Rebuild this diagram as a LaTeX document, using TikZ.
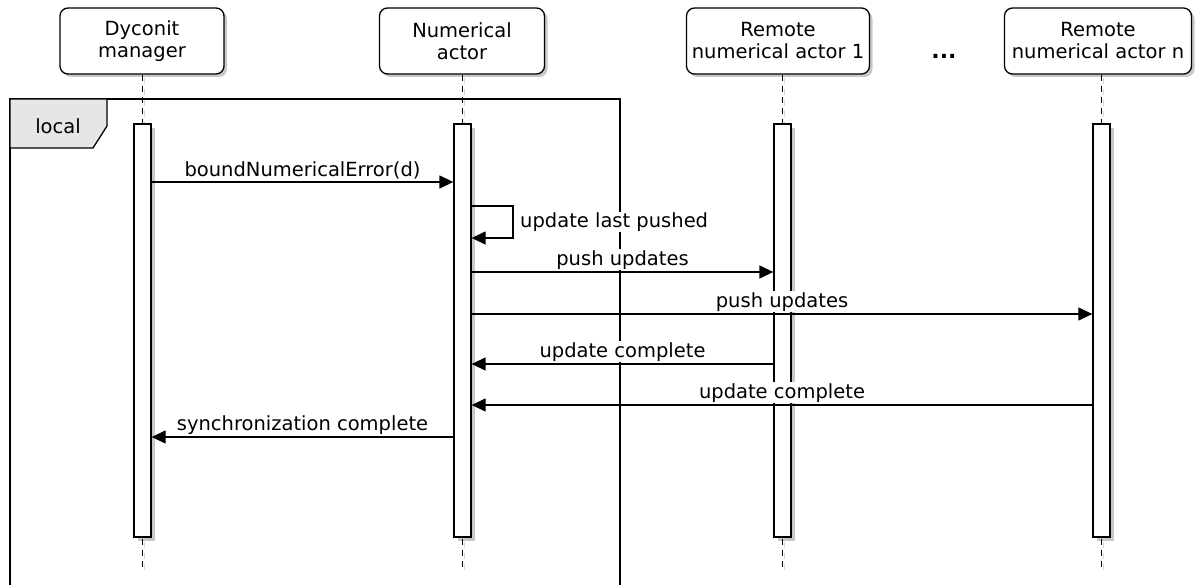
\documentclass[tikz,border=0pt]{standalone}
\usepackage{fontspec}
\setmainfont{DejaVu Sans}
\usetikzlibrary{arrows.meta,shadows}

\definecolor{shade}{RGB}{200,200,200}
\definecolor{lifegray}{RGB}{215,215,215}
\definecolor{tabfill}{RGB}{230,230,230}

\tikzset{
  every node/.style={font=\fontsize{19.5}{22}\selectfont},
  actor/.style={draw, line width=1.3pt, fill=white, rounded corners=8pt,
    align=center, minimum height=66pt, inner sep=0pt,
    drop shadow={shadow xshift=3pt, shadow yshift=-3pt, fill=shade, opacity=1}},
  actbar/.style={draw, line width=1.3pt, fill=white, minimum width=17pt,
    minimum height=413pt, inner sep=0pt,
    drop shadow={shadow xshift=4pt, shadow yshift=-4pt, fill=shade, opacity=1}},
  life/.style={line width=1.3pt, dash pattern=on 6pt off 5pt},
  lifeshade/.style={line width=1.3pt, lifegray, dash pattern=on 6pt off 5pt},
  msg/.style={line width=1.3pt, -{Triangle[length=14pt, width=13pt]}},
  lbl/.style={fill=white, inner sep=1pt, anchor=south, yshift=1pt},
  frameline/.style={line width=1.3pt},
}

\begin{document}
\begin{tikzpicture}[x=1pt, y=-1pt]
\useasboundingbox (0,0) rectangle (1200,585);

% combined fragment "local"
\draw[frameline] (10,586) -- (10,99) -- (620,99) -- (620,586);
\draw[frameline, fill=tabfill] (10,99) -- (107,99) -- (107,126) -- (93,148) -- (10,148) -- cycle;
\node (loc) at (58,126) {local};

% participants
\node[actor, minimum width=164pt] (dm) at (142,41) {Dyconit\\manager};
\node[actor, minimum width=165pt] (na) at (462,41) {Numerical\\actor};
\node[actor, minimum width=183pt] (r1) at (778,41) {Remote\\numerical actor 1};
\node[actor, minimum width=187pt] (rn) at (1098,41) {Remote\\numerical actor n};
\node[font=\fontsize{22}{24}\bfseries\selectfont] (dots) at (944,56) {...};

% activation bars
\node[actbar] (dmA) at (142.5,330.5) {};
\node[actbar] (naA) at (462.5,330.5) {};
\node[actbar] (r1A) at (782.5,330.5) {};
\node[actbar] (rnA) at (1101.5,330.5) {};

% lifelines
\foreach \p in {dm,na,r1,rn}{
  \coordinate (\p end) at (\p A.south |- 0,570);
  \draw[lifeshade] ([xshift=2pt,yshift=-3pt]\p A.north |- \p.south) -- ([xshift=2pt]\p A.north);
  \draw[life] (\p A.north |- \p.south) -- (\p A.north);
  \draw[lifeshade] ([xshift=2pt,yshift=-4pt]\p A.south) -- ([xshift=2pt]\p end);
  \draw[life] ([yshift=-1pt]\p A.south) -- ([yshift=3pt]\p end);
}

% messages
\draw[msg] (dmA.east |- 0,182) -- node[lbl] {boundNumericalError(d)} (naA.west |- 0,182);
\coordinate (selfturn) at (513,206);
\draw[msg] (naA.east |- 0,206) -- (selfturn) -- (selfturn |- 0,238) -- (naA.east |- 0,238);
\node[anchor=west, inner sep=1pt, fill=white] (selflbl) at (519,222) {update last pushed};
\draw[msg] (naA.east |- 0,272) -- node[lbl] {push updates} (r1A.west |- 0,272);
\draw[msg] (naA.east |- 0,314) -- node[lbl] {push updates} (rnA.west |- 0,314);
\draw[msg] (r1A.west |- 0,364) -- node[lbl] {update complete} (naA.east |- 0,364);
\draw[msg] (rnA.west |- 0,405) -- node[lbl] {update complete} (naA.east |- 0,405);
\draw[msg] (naA.west |- 0,437) -- node[lbl] {synchronization complete} (dmA.east |- 0,437);
\end{tikzpicture}
\end{document}
